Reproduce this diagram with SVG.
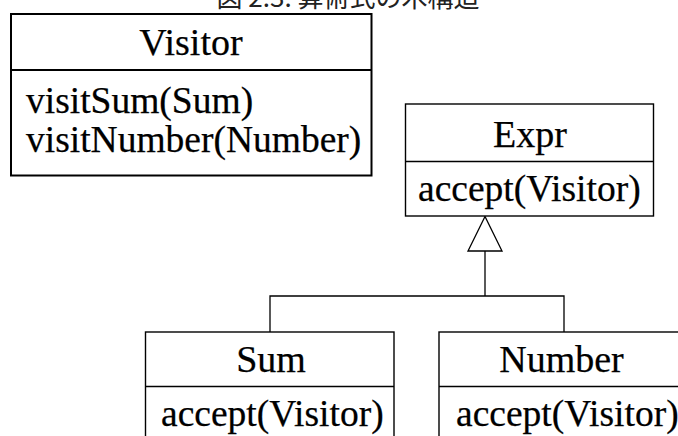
<svg xmlns="http://www.w3.org/2000/svg" width="678" height="436" viewBox="0 0 678 436">
  <style>
    .box { fill: #ffffff; stroke: #000000; stroke-width: 1.4; }
    .box.thick { stroke-width: 2; }
    .sep { stroke: #000000; stroke-width: 1.4; }
    .sep.thick { stroke-width: 2; }
    .t { font-family: "Liberation Serif", "Times New Roman", serif; font-size: 37.5px; fill: #000000; stroke: #000000; stroke-width: 0.25; }
    .title { text-anchor: middle; font-size: 38px; }
    .cap { font-family: "Noto Sans CJK JP", "Noto Sans", sans-serif; font-size: 26px; fill: #222222; text-anchor: middle; }
    .link { fill: none; stroke: #000000; stroke-width: 1.3; }
    .head { fill: #ffffff; stroke: #000000; stroke-width: 1.3; }
  </style>

  <rect width="678" height="436" fill="#ffffff"/>

  <!-- figure caption, clipped by the top edge -->
  <text class="cap" x="348" y="7">図 2.3: 算術式の木構造</text>

  <!-- connectors: generalization tree from Sum / Number up to Expr -->
  <g id="connectors">
    <path class="link" d="M270 332 V296 H564 V332"/>
    <path class="link" d="M485 296 V251"/>
    <polygon class="head" points="485,216.5 468,251 502,251"/>
  </g>

  <g id="visitor">
    <rect class="box thick" x="11" y="14" width="360.5" height="161.5"/>
    <line class="sep thick" x1="11" y1="70" x2="371.5" y2="70"/>
    <text class="t title" x="191" y="55">Visitor</text>
    <text class="t" x="26" y="113">visitSum(Sum)</text>
    <text class="t" x="26" y="152">visitNumber(Number)</text>
  </g>

  <g id="expr">
    <rect class="box" x="405.5" y="104" width="248" height="112"/>
    <line class="sep" x1="405.5" y1="161.5" x2="653.5" y2="161.5"/>
    <text class="t title" x="530" y="146.5">Expr</text>
    <text class="t" x="418" y="200.5">accept(Visitor)</text>
  </g>

  <g id="sum">
    <rect class="box" x="145.5" y="332" width="248.5" height="120"/>
    <line class="sep" x1="145.5" y1="386.5" x2="394" y2="386.5"/>
    <text class="t title" x="271" y="372">Sum</text>
    <text class="t" x="161" y="426">accept(Visitor)</text>
  </g>

  <g id="number">
    <rect class="box" x="439" y="332" width="250" height="120"/>
    <line class="sep" x1="439" y1="386.5" x2="689" y2="386.5"/>
    <text class="t title" x="561.5" y="372">Number</text>
    <text class="t" x="456" y="426">accept(Visitor)</text>
  </g>
</svg>
